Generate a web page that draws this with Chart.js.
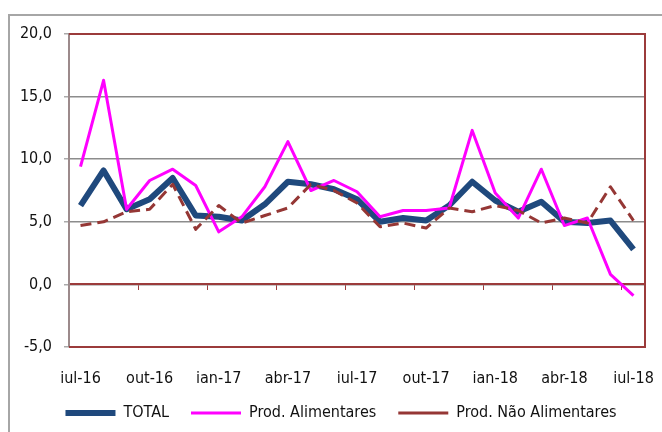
<!DOCTYPE html>
<html>
<head>
<meta charset="utf-8">
<script src="https://cdn.jsdelivr.net/npm/chart.js@4/dist/chart.umd.min.js"></script>
<style>
  html, body { margin: 0; padding: 0; background: #fff; }
  #wrap { width: 662px; height: 432px; }
</style>
</head>
<body>
<div id="wrap"><canvas id="chart"></canvas></div>
<script>
const months = ['jul-16','ago-16','set-16','out-16','nov-16','dez-16','jan-17','fev-17','mar-17','abr-17','mai-17','jun-17',
                'jul-17','ago-17','set-17','out-17','nov-17','dez-17','jan-18','fev-18','mar-18','abr-18','mai-18','jun-18','jul-18'];
const total = [6.3, 9.1, 6.0, 6.8, 8.5, 5.5, 5.4, 5.1, 6.4, 8.2, 8.0, 7.6,
               6.8, 5.0, 5.3, 5.1, 6.3, 8.2, 6.7, 5.8, 6.6, 5.0, 4.9, 5.1, 2.8];
const alimentares = [9.4, 16.3, 6.0, 8.3, 9.2, 7.9, 4.2, 5.4, 7.8, 11.4, 7.5, 8.3,
                     7.4, 5.4, 5.9, 5.9, 6.1, 12.3, 7.3, 5.3, 9.2, 4.7, 5.3, 0.8, -0.9];
const naoAlimentares = [4.7, 5.0, 5.8, 6.0, 8.0, 4.4, 6.3, 4.9, 5.5, 6.1, 8.0, 7.5,
                        6.5, 4.6, 4.9, 4.5, 6.1, 5.8, 6.3, 5.9, 4.9, 5.3, 4.9, 7.8, 5.1];
const yTicks = [-5, 0, 5, 10, 15, 20];

const FONT = "'DejaVu Sans Condensed', 'Liberation Sans Narrow', 'DejaVu Sans', sans-serif";
const brown = '#9b3b3b';
const grid = '#8c8c8c';

// frame around the plot (top, right, bottom) and the outer gray border
const framePlugin = {
    id: 'frame',
    beforeDraw(chart) {
        const c = chart.ctx;
        c.save();
        c.strokeStyle = '#a6a6a6';
        c.lineWidth = 2;
        c.strokeRect(9, 15, 700, 500);
        c.restore();
    },
    beforeDatasetsDraw(chart) {
        const a = chart.chartArea;
        const c = chart.ctx;
        c.save();
        c.strokeStyle = brown;
        c.lineWidth = 2;
        c.beginPath();
        c.moveTo(a.left, a.top);
        c.lineTo(a.right, a.top);
        c.lineTo(a.right, a.bottom);
        c.lineTo(a.left, a.bottom);
        c.stroke();
        c.restore();
    }
};

const ctx = document.getElementById('chart');
new Chart(ctx, {
    type: 'line',
    data: {
        labels: months,
        datasets: [{
            label: 'TOTAL',
            data: total,
            borderColor: '#1f497d',
            backgroundColor: '#1f497d',
            borderWidth: 6,
            order: 3
        }, {
            label: 'Prod. Alimentares',
            data: alimentares,
            borderColor: '#ff00ff',
            backgroundColor: '#ff00ff',
            borderWidth: 3,
            order: 2
        }, {
            label: 'Prod. Não Alimentares',
            data: naoAlimentares,
            borderColor: '#953735',
            backgroundColor: '#953735',
            borderWidth: 3,
            borderDash: [11, 6],
            order: 1
        }]
    },
    options: {
        responsive: true,
        maintainAspectRatio: false,
        animation: false,
        layout: { padding: { left: 20, right: 0, top: 34, bottom: 1 } },
        elements: {
            point: { radius: 0 },
            line: { tension: 0, borderJoinStyle: 'round' }
        },
        scales: {
            x: {
                offset: true,
                grid: { display: false, drawTicks: false },
                border: { display: false },
                ticks: {
                    autoSkip: false,
                    maxRotation: 0,
                    padding: 22,
                    color: '#111',
                    font: { family: FONT, size: 16 },
                    callback: (v, i) => i % 3 === 0 ? months[i] : ''
                },
                afterFit: s => {
                    s.height = 36;
                    s.paddingLeft = 0;
                    s.paddingRight = 17;
                }
            },
            x0: {
                type: 'category',
                labels: months,
                offset: true,
                position: { y: 0 },
                ticks: { display: false },
                border: { color: brown, width: 2 },
                grid: {
                    offset: true,
                    drawOnChartArea: false,
                    tickLength: 5,
                    lineWidth: 1,
                    color: c => (c.index > 0 && c.index < months.length && c.index % 3 === 0) ? brown : 'rgba(0,0,0,0)'
                }
            },
            y: {
                min: -5,
                max: 20,
                afterBuildTicks: s => { s.ticks = yTicks.map(v => ({ value: v })); },
                afterFit: s => { s.width = 49; },
                border: { color: '#9c8a8b', width: 2 },
                grid: {
                    color: grid,
                    lineWidth: 1.5,
                    tickLength: 5,
                    tickColor: '#aaaaaa'
                },
                ticks: {
                    padding: 12,
                    color: '#111',
                    font: { family: FONT, size: 16 },
                    callback: v => v.toFixed(1).replace('.', ',')
                }
            }
        },
        plugins: {
            legend: {
                position: 'bottom',
                labels: {
                    usePointStyle: true,
                    pointStyle: 'line',
                    pointStyleWidth: 50,
                    boxWidth: 50,
                    padding: 22,
                    color: '#111',
                    font: { family: FONT, size: 16 },
                    sort: (a, b) => a.datasetIndex - b.datasetIndex
                }
            },
            tooltip: { enabled: false }
        }
    },
    plugins: [framePlugin]
});
</script>
</body>
</html>
